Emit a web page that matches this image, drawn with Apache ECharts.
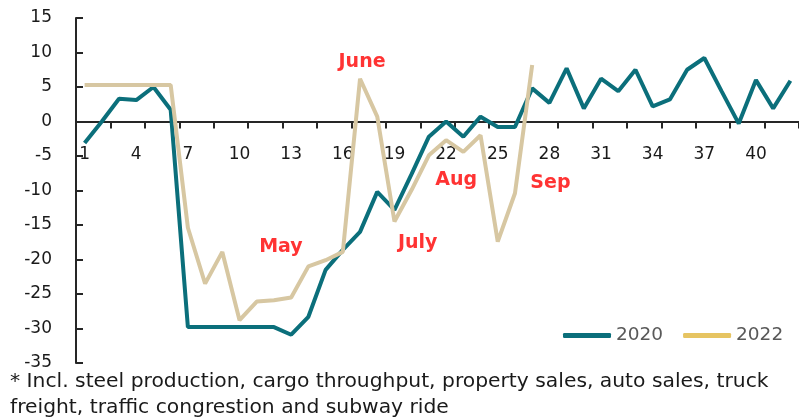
<!DOCTYPE html>
<html>
<head>
<meta charset="utf-8">
<script src="https://cdn.jsdelivr.net/npm/echarts@6/dist/echarts.min.js"></script>
<style>html,body{margin:0;padding:0;background:#fff}#c{width:799px;height:420px}</style>
</head>
<body>
<div id="c"></div>
<script>
const categories = ['1','2','3','4','5','6','7','8','9','10','11','12','13','14','15','16','17','18','19','20','21','22','23','24','25','26','27','28','29','30','31','32','33','34','35','36','37','38','39','40','41','42'];
const s2020 = [-3.1, 0.0, 3.3, 3.1, 5.0, 1.7, -29.8, -29.8, -29.8, -29.8, -29.8, -29.8, -30.9, -28.3, -21.5, -18.6, -16.0, -10.2, -12.8, -7.6, -2.2, 0.0, -2.2, 0.7, -0.8, -0.8, 4.8, 2.7, 7.7, 1.9, 6.2, 4.4, 7.5, 2.2, 3.2, 7.5, 9.2, 4.4, -0.3, 6.0, 1.9, 5.9];
const s2022 = [5.3, 5.3, 5.3, 5.3, 5.3, 5.3, -15.4, -23.5, -18.9, -28.8, -26.1, -25.9, -25.5, -21.0, -20.1, -18.9, 6.2, 0.7, -14.5, -9.9, -4.9, -2.7, -4.4, -2.0, -17.4, -10.4, 8.2];
const annotText = ['May', 'June', 'July', 'Aug', 'Sep'];
const annotCat = ['12', '17', '20', '22', '28'];
const annotVal = [-18.2, 8.6, -17.6, -8.5, -8.9];
const annotShift = [7, 2, 6, 10, 1];
const yMin = -35, yMax = 15, yStep = 5;
const footnote = '* Incl. steel production, cargo throughput, property sales, auto sales, truck\nfreight, traffic congrestion and subway ride';

const gridTop = 18, gridH = 345;
const zeroOffset = -gridH * (0 - yMin) / (yMax - yMin);

const chart = echarts.init(document.getElementById('c'), null, {renderer: 'canvas'});
const axisFont = {fontFamily: 'DejaVu Sans', fontSize: 17, color: '#1a1a1a'};
chart.setOption({
  animation: false,
  title: {
    text: footnote, left: 10, top: 369, padding: 0,
    textStyle: {fontFamily: 'DejaVu Sans', fontSize: 20.3, fontWeight: 'normal', color: '#1a1a1a', lineHeight: 26}
  },
  legend: {
    data: [
      {name: '2020', itemStyle: {color: '#0b6f7b'}},
      {name: '2022', itemStyle: {color: '#e6c462'}}
    ],
    left: 563, top: 326, padding: 0, icon: 'roundRect', itemWidth: 48, itemHeight: 5, itemGap: 20,
    textStyle: {fontFamily: 'DejaVu Sans', fontSize: 18.5, color: '#595959', padding: [0, 0, 0, 0]}
  },
  grid: {left: 76, right: -1, top: gridTop, height: gridH, containLabel: false},
  xAxis: {
    type: 'category', data: categories, boundaryGap: true, offset: zeroOffset,
    axisLine: {onZero: false, lineStyle: {color: '#262626', width: 2}},
    axisTick: {show: true, interval: 1, length: 7, lineStyle: {color: '#262626', width: 2}},
    axisLabel: Object.assign({interval: 2, margin: 25}, axisFont),
    splitLine: {show: false}
  },
  yAxis: {
    type: 'value', min: yMin, max: yMax, interval: yStep,
    axisLine: {show: true, lineStyle: {color: '#262626', width: 2}},
    axisTick: {show: true, inside: true, length: 7, lineStyle: {color: '#262626', width: 2}},
    axisLabel: Object.assign({margin: 24}, axisFont),
    splitLine: {show: false}
  },
  series: [
    {name: '2020', type: 'line', data: s2020, symbol: 'none', lineStyle: {color: '#0b6f7b', width: 4}, itemStyle: {color: '#0b6f7b'}, z: 2},
    {name: '2022', type: 'line', data: s2022, symbol: 'none', lineStyle: {color: '#d7c7a2', width: 4}, itemStyle: {color: '#d7c7a2'}, z: 3},
    {
      name: 'notes', type: 'scatter', symbolSize: 0, z: 5,
      data: annotText.map((t, i) => ({name: t, value: [annotCat[i], annotVal[i]], label: {offset: [annotShift[i], 0]}})),
      label: {show: true, position: 'inside', formatter: '{b}', color: '#ff0000', fontFamily: 'DejaVu Sans', fontWeight: 'bold', fontSize: 19}
    }
  ]
});
</script>
</body>
</html>
